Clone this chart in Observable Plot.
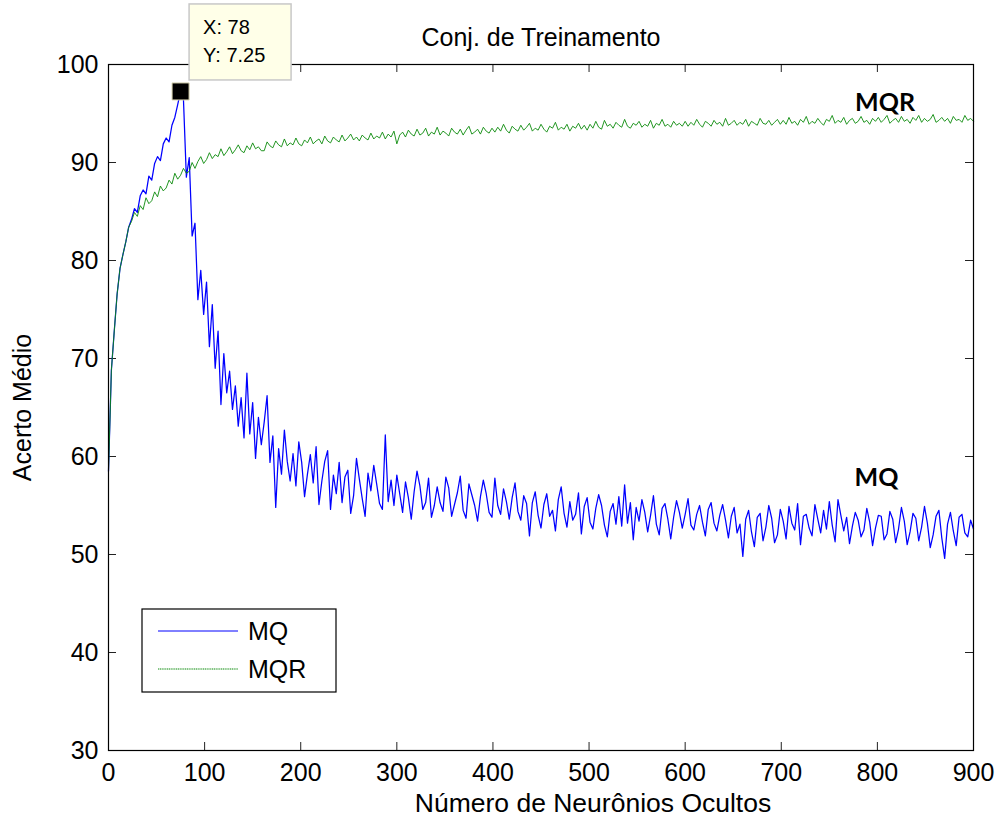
<!DOCTYPE html>
<html>
<head>
<meta charset="utf-8">
<script src="https://cdn.jsdelivr.net/npm/d3@7"></script>
<script src="https://cdn.jsdelivr.net/npm/@observablehq/plot@0.6"></script>
<style>
  html, body { margin: 0; padding: 0; background: white; }
  #chart { width: 1001px; height: 818px; }
</style>
</head>
<body>
<div id="chart"></div>
<script>
// ---- data (sampled every 3 hidden neurons) ----
const step = 3;
const mqValues = [
58.5,68.8,72.8,76.6,79.2,80.6,81.9,83.4,84.2,85.3,84.9,86.6,87.2,86.8,88.6,88.2,89.9,90.6,90.2,91.9,
92.5,92.1,93.8,94.6,95.9,97.25,96.4,88.5,90.5,82.5,83.8,76.0,79.0,74.5,77.8,71.2,75.5,69.0,72.8,65.3,
70.5,66.5,68.7,64.8,67.2,63.1,66.0,61.9,68.5,62.3,65.5,59.8,64.0,61.2,63.5,66.2,59.4,62.1,54.8,60.8,
58.2,62.7,59.5,57.5,60.3,57.0,61.5,59.4,55.9,58.2,60.2,57.3,61.0,55.1,57.5,59.5,60.6,54.6,58.1,56.2,
59.4,55.3,57.9,58.6,54.2,56.0,59.8,57.7,55.7,53.9,58.3,56.5,59.1,57.2,55.2,54.6,62.2,55.4,57.6,55.0,
58.1,56.2,54.3,57.4,55.8,53.6,56.4,58.5,57.0,54.6,55.3,57.8,53.8,55.0,56.9,55.3,54.4,57.9,56.8,53.9,
55.1,56.3,58.0,54.5,53.7,57.2,56.1,55.0,53.4,55.9,57.6,56.2,54.3,53.8,57.8,55.0,54.1,56.7,55.4,53.6,
55.8,57.3,54.4,53.5,56.0,55.2,51.9,55.3,56.4,54.0,52.7,55.1,56.2,53.9,54.5,52.4,55.6,56.9,54.2,52.8,
55.4,53.5,54.1,56.3,52.1,54.9,55.8,53.3,52.6,54.7,56.1,55.0,53.0,51.8,54.4,55.2,53.1,55.9,52.9,57.1,
53.2,55.3,51.5,54.8,53.4,55.6,54.3,52.3,54.0,56.0,53.1,52.0,54.7,55.2,53.6,51.6,53.8,55.5,54.3,52.7,
54.1,55.7,53.0,52.5,54.1,55.0,53.3,51.9,54.6,55.3,53.2,52.4,54.0,55.1,53.5,51.7,53.9,54.8,52.2,53.1,
49.8,53.6,54.5,52.3,50.8,53.8,54.2,51.4,52.8,55.0,53.7,51.2,52.0,54.6,53.4,51.6,54.9,53.2,52.5,55.2,
51.0,53.9,54.1,52.7,51.9,55.1,53.6,52.2,54.5,52.6,55.4,53.0,51.3,55.6,54.0,52.4,53.8,51.1,52.9,54.3,
53.5,51.8,52.5,54.7,53.3,50.9,52.7,54.0,53.9,51.5,52.1,54.4,53.6,51.2,52.6,54.8,53.4,51.0,52.3,54.2,
53.7,51.4,52.8,54.9,53.2,50.7,52.0,53.9,54.5,51.7,49.6,53.1,54.3,52.4,50.9,53.8,54.1,52.2,51.8,53.5,
52.6
];
const mqrValues = [
58.5,68.8,72.8,76.6,79.2,80.6,81.9,83.4,
84.0,84.9,84.5,85.6,85.2,86.4,85.8,86.1,87.0,86.5,87.6,87.1,87.4,88.2,87.8,88.9,88.3,88.7,89.4,88.9,89.1,90.0,89.4,90.1,90.6,89.9,
90.3,91.0,90.4,90.8,90.6,91.4,90.7,91.1,91.6,90.9,91.3,91.8,91.2,91.0,91.7,91.3,92.0,91.4,91.6,91.2,91.2,92.1,91.7,91.5,92.2,91.8,91.6,92.4,91.7,92.0,91.8,92.5,91.9,
91.7,92.3,92.0,92.6,91.9,92.2,92.4,91.9,92.7,92.2,92.0,92.6,92.3,92.1,92.8,92.2,92.5,92.9,92.3,92.6,92.2,92.8,92.5,92.3,93.0,92.4,92.7,92.5,93.1,92.4,92.9,92.6,93.2,91.9,
92.8,93.1,92.6,93.3,92.9,92.7,93.4,92.8,93.0,93.5,92.7,93.1,92.9,93.6,92.8,93.2,93.0,92.7,93.5,93.1,92.9,93.4,92.8,93.3,93.7,92.9,93.1,93.4,92.9,93.6,93.2,93.0,93.5,
93.1,93.6,93.2,93.9,93.3,93.0,93.7,93.4,93.2,93.8,93.3,93.6,94.0,93.2,93.5,93.3,93.9,93.4,93.1,93.7,93.5,94.1,93.3,93.6,93.4,93.9,93.2,93.7,93.5,94.0,93.4,93.8,93.3,
93.9,93.5,94.2,93.6,93.4,94.3,93.7,93.9,93.5,94.1,93.8,93.6,94.4,93.7,93.5,94.0,93.8,94.2,93.6,93.9,93.7,94.3,93.5,94.0,93.8,94.4,93.7,93.9,93.6,94.2,93.8,94.0,93.7,
94.2,93.7,94.1,93.8,94.4,93.9,93.6,94.2,94.0,93.7,94.3,93.9,94.1,93.7,94.5,93.8,94.0,94.3,93.8,94.1,93.9,94.4,93.7,94.2,94.0,93.8,94.5,94.0,93.9,94.3,93.8,94.1,94.4,93.9,
94.3,93.9,94.6,94.0,94.2,93.8,94.4,94.1,94.7,93.9,94.2,94.0,94.5,94.1,93.8,94.4,94.2,94.8,94.0,94.3,94.1,94.6,93.9,94.3,94.5,94.0,94.2,94.7,94.1,94.3,93.9,94.5,94.2,
94.6,94.1,94.4,94.8,94.0,94.3,94.5,94.1,94.7,94.2,94.4,94.0,94.6,94.3,94.8,94.1,94.5,94.2,94.4,94.9,94.1,94.3,94.6,94.2,94.5,94.0,94.7,94.3,94.4,94.1,94.8,94.3,94.5,94.2
];
const xTicks = [0, 100, 200, 300, 400, 500, 600, 700, 800, 900];
const yTicks = [30, 40, 50, 60, 70, 80, 90, 100];
const seriesNames = ["MQ", "MQR"];
const peak = {x: 75, y: 97.25, labelX: "X: 78", labelY: "Y: 7.25"};
const titleText = "Conj. de Treinamento";
const xLabel = "Número de Neurônios Ocultos";
const yLabel = "Acerto Médio";

const mqData = mqValues.map((v, i) => ({x: i * step, y: v}));
const mqrData = mqrValues.map((v, i) => ({x: i * step, y: v}));

const W = 1001, H = 818;
const mL = 108, mR = 28, mT = 64, mB = 68;
const innerW = W - mL - mR, innerH = H - mT - mB;
const tickLen = 8;
const FONT = "'Liberation Sans', Arial, Helvetica, sans-serif";
const BLUE = "#0000ff", GREEN = "#0a8a0a";
const FS = 25;

const plot = Plot.plot({
  width: W, height: H,
  marginLeft: mL, marginRight: mR, marginTop: mT, marginBottom: mB,
  x: {domain: [0, 900], axis: null},
  y: {domain: [30, 100], axis: null},
  style: {fontFamily: FONT, background: "white", overflow: "visible"},
  marks: [
    // inward ticks on all four sides
    Plot.tickX(xTicks, {x: d => d, insetTop: innerH - tickLen, stroke: "#222", strokeWidth: 1}),
    Plot.tickX(xTicks, {x: d => d, insetBottom: innerH - tickLen, stroke: "#222", strokeWidth: 1}),
    Plot.tickY(yTicks, {y: d => d, insetRight: innerW - tickLen, stroke: "#222", strokeWidth: 1}),
    Plot.tickY(yTicks, {y: d => d, insetLeft: innerW - tickLen, stroke: "#222", strokeWidth: 1}),
    Plot.line(mqData, {x: "x", y: "y", stroke: BLUE, strokeWidth: 1.25}),
    Plot.line(mqrData, {x: "x", y: "y", stroke: GREEN, strokeWidth: 0.9}),
    Plot.frame({stroke: "black", strokeWidth: 1.2}),
    Plot.dot([peak], {x: "x", y: "y", symbol: "square", r: 9.6, fill: "black", stroke: "#d8d4b0", strokeWidth: 1}),
    // tick labels
    Plot.text(xTicks, {x: d => d, frameAnchor: "bottom", lineAnchor: "middle", dy: 22, text: d => String(d), fontSize: FS, fill: "black"}),
    Plot.text(yTicks, {y: d => d, frameAnchor: "left", lineAnchor: "middle", dx: -10, textAnchor: "end", text: d => String(d), fontSize: FS, fill: "black"}),
    // axis labels & title
    Plot.text([xLabel], {frameAnchor: "bottom", lineAnchor: "middle", textAnchor: "middle", dx: 52, dy: 53, text: d => d, fontSize: 26.5, fill: "black"}),
    Plot.text([yLabel], {frameAnchor: "left", lineAnchor: "middle", textAnchor: "middle", dx: -86, rotate: -90, text: d => d, fontSize: FS, fill: "black"}),
    Plot.text([titleText], {frameAnchor: "top", lineAnchor: "middle", textAnchor: "middle", dy: -27, text: d => d, fontSize: FS, fill: "black"}),
    // series annotations
    Plot.text([{x: 808, y: 96.1, t: "MQR"}], {x: "x", y: "y", text: "t", lineAnchor: "middle", fontSize: 25, fontWeight: "bold", fontFamily: "Lato, 'Open Sans', sans-serif", fill: "black"}),
    Plot.text([{x: 799, y: 57.8, t: "MQ"}], {x: "x", y: "y", text: "t", lineAnchor: "middle", fontSize: 25, fontWeight: "bold", fontFamily: "Lato, 'Open Sans', sans-serif", fill: "black"})
  ]
});

document.getElementById("chart").appendChild(plot);

// ---- data tip and legend, positioned through the plot's scales ----
const sx = plot.scale("x"), sy = plot.scale("y");
const svg = d3.select(plot);
const px = sx.apply(peak.x), py = sy.apply(peak.y);

const tip = svg.append("g").attr("text-anchor", "start");
tip.append("rect")
  .attr("x", px + 9).attr("y", py - 87)
  .attr("width", 102).attr("height", 76)
  .attr("fill", "#ffffe8").attr("stroke", "#c8c8c8").attr("stroke-width", 1.5);
tip.append("text").attr("x", px + 23).attr("y", py - 57)
  .attr("font-family", FONT).attr("font-size", 20).attr("fill", "black").text(peak.labelX);
tip.append("text").attr("x", px + 23).attr("y", py - 29)
  .attr("font-family", FONT).attr("font-size", 20).attr("fill", "black").text(peak.labelY);

const lg = svg.append("g").attr("text-anchor", "start")
  .attr("transform", `translate(${mL + 34},${mT + innerH - 141})`);
lg.append("rect").attr("x", 0).attr("y", 0).attr("width", 194).attr("height", 83)
  .attr("fill", "white").attr("stroke", "black").attr("stroke-width", 1.2);
const colors = [BLUE, GREEN];
seriesNames.forEach((name, i) => {
  const yy = 22 + i * 38;
  lg.append("line").attr("x1", 16).attr("x2", 96).attr("y1", yy).attr("y2", yy)
    .attr("stroke", colors[i]).attr("stroke-width", 1)
    .attr("stroke-dasharray", i === 1 ? "1.2,0.6" : null);
  lg.append("text").attr("x", 106).attr("y", yy).attr("dy", "0.36em")
    .attr("font-family", FONT).attr("font-size", FS).attr("fill", "black").text(name);
});
</script>
</body>
</html>
